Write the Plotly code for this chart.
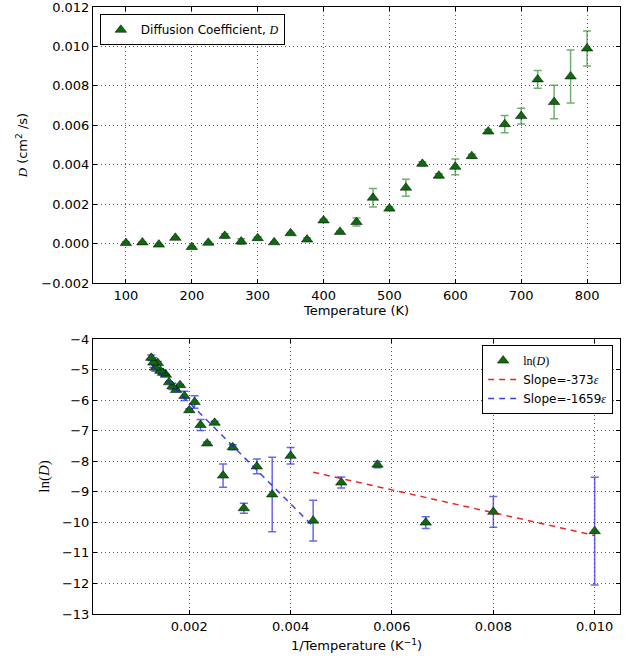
import numpy as np
import plotly.graph_objects as go

# Temperatures (K) and measured diffusion coefficients D (cm^2/s) with uncertainties
temperature = [100, 125, 150, 175, 200, 225, 250, 275, 300, 325, 350, 375, 400,
               425, 450, 475, 500, 525, 550, 575, 600, 625, 650, 675, 700, 725,
               750, 775, 800]
diff_coeff = [3.4e-5, 6.4e-5, -4.5e-5, 3.0e-4, -1.67e-4, 4.8e-5, 4.0e-4, 1.13e-4,
              2.83e-4, 7.2e-5, 5.3e-4, 2.1e-4, 1.18e-3, 6.0e-4, 1.1e-3, 2.33e-3,
              1.78e-3, 2.84e-3, 4.05e-3, 3.45e-3, 3.9e-3, 4.44e-3, 5.69e-3, 6.06e-3,
              6.47e-3, 8.33e-3, 7.18e-3, 8.48e-3, 9.9e-3]
diff_err = [6.0e-5, 3.2e-5, 8.6e-6, 3.0e-5, 3.0e-5, 3.2e-5, 1.08e-4, 1.38e-4,
            6.8e-5, 1.2e-5, 4.2e-5, 8.0e-5, 6.0e-5, 3.0e-5, 2.0e-4, 4.7e-4,
            9.0e-5, 4.3e-4, 1.0e-4, 1.0e-4, 4.0e-4, 1.0e-4, 1.0e-4, 4.4e-4,
            4.0e-4, 4.5e-4, 8.5e-4, 1.34e-3, 8.9e-4]

# Arrhenius fits: ln(D) = intercept + slope / T over two temperature ranges
fit_low = dict(slope=-373, intercept=-6.70, t_min=100, t_max=225, color="rgba(230,0,0,0.85)")
fit_high = dict(slope=-1659, intercept=-2.76, t_min=225, t_max=800, color="rgba(30,30,230,0.85)")

T = np.array(temperature, dtype=float)
D = np.array(diff_coeff)
dD = np.array(diff_err)
inv_T = 1.0 / T
ln_D = np.log(np.abs(D))
ln_err = dD / np.abs(D)

FONT = "DejaVu Sans"
SERIF = "Liberation Serif"
MARKER_GREEN = "#0d6b0d"

fig = go.Figure()

# Top panel: D vs T
fig.add_trace(go.Scatter(
    x=T, y=D, mode="markers",
    name="Diffusion Coefficient, <i><span style='font-family:Liberation Serif'>D</span></i>",
    marker=dict(symbol="triangle-up", size=10, color=MARKER_GREEN,
                line=dict(color="black", width=0.5)),
    error_y=dict(type="data", array=dD, visible=True, color="rgba(20,120,20,0.6)",
                 thickness=1.5, width=4),
    xaxis="x", yaxis="y", legend="legend", showlegend=True,
))

# Bottom panel: ln(D) vs 1/T
fig.add_trace(go.Scatter(
    x=inv_T, y=ln_D, mode="markers",
    name="<span style='font-family:Liberation Serif'>ln(<i>D</i>)</span>",
    marker=dict(symbol="triangle-up", size=10, color=MARKER_GREEN,
                line=dict(color="black", width=0.5)),
    error_y=dict(type="data", array=ln_err, visible=True, color="rgba(40,40,230,0.7)",
                 thickness=1.5, width=4),
    xaxis="x2", yaxis="y2", legend="legend2", showlegend=True,
))

for fit in (fit_low, fit_high):
    xs = np.array([1.0 / fit["t_max"], 1.0 / fit["t_min"]])
    ys = fit["intercept"] + fit["slope"] * xs
    fig.add_trace(go.Scatter(
        x=xs, y=ys, mode="lines",
        name=f"Slope={fit['slope']}<span style='font-family:Liberation Serif'><i>ε</i></span>",
        line=dict(color=fit["color"], width=1.5, dash="6px,5px"),
        xaxis="x2", yaxis="y2", legend="legend2", showlegend=True,
    ))

axis_common = dict(
    showline=True, linecolor="black", linewidth=1, mirror="allticks",
    ticks="inside", ticklen=4, tickcolor="black", automargin=False,
    ticklabeloverflow="allow",
    showgrid=True, gridcolor="rgba(60,60,60,0.85)", griddash="1px,3px", gridwidth=1,
    zeroline=False, tickfont=dict(family=FONT, size=13, color="black"),
)

top_dom = [0.545, 1.0]
bot_dom = [0.0, 0.453]

fig.update_layout(
    width=635, height=657, showlegend=True,
    margin=dict(l=93, r=15, t=7, b=43, autoexpand=False),
    paper_bgcolor="white", plot_bgcolor="white",
    font=dict(family=FONT, size=13, color="black"),
    xaxis=dict(axis_common, domain=[0, 1], anchor="y", range=[50, 850],
               tickvals=[100, 200, 300, 400, 500, 600, 700, 800],
               title=dict(text="Temperature (K)", standoff=4, font=dict(size=13))),
    yaxis=dict(axis_common, domain=top_dom, anchor="x", range=[-0.002001, 0.012001],
               tickvals=[-0.002, 0.0, 0.002, 0.004, 0.006, 0.008, 0.010, 0.012],
               tickformat=".3f",
               title=dict(text="<i><span style='font-family:Liberation Serif'>D</span></i> (cm<sup>2</sup> /s)",
                          standoff=10, font=dict(size=13))),
    xaxis2=dict(axis_common, domain=[0, 1], anchor="y2", range=[0.0001, 0.0105],
                tickvals=[0.002, 0.004, 0.006, 0.008, 0.010], tickformat=".3f",
                title=dict(text="1/Temperature (K<sup>−1</sup>)", standoff=8, font=dict(size=13))),
    yaxis2=dict(axis_common, domain=bot_dom, anchor="x2", range=[-13.0001, -3.9999],
                tickvals=list(range(-13, -3)),
                title=dict(text="ln(<i>D</i>)", standoff=8,
                           font=dict(family=SERIF, size=15))),
    legend=dict(x=0.013, y=0.988, xanchor="left", yanchor="top",
                bordercolor="black", borderwidth=1, bgcolor="white",
                font=dict(family=FONT, size=12), itemwidth=30,
                tracegroupgap=0, visible=True),
    legend2=dict(x=0.987, y=0.443, xanchor="right", yanchor="top",
                 bordercolor="black", borderwidth=1, bgcolor="white",
                 font=dict(family=FONT, size=12), itemwidth=30,
                 tracegroupgap=0, visible=True),
)

fig.write_html("out.html")
